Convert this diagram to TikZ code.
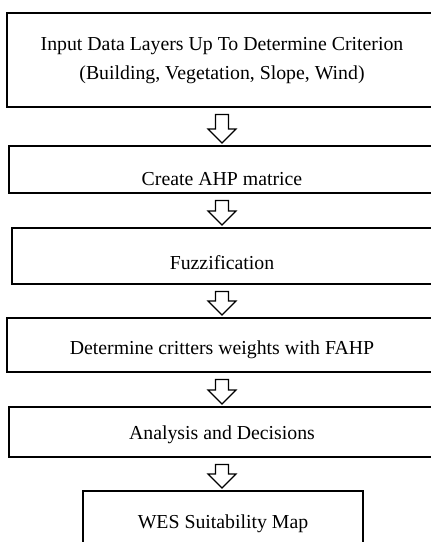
\documentclass[tikz,border=0pt]{standalone}
\usepackage{fontspec}
\setmainfont{Liberation Serif}
\usetikzlibrary{calc}

% hollow block arrow from the foot of one stage to the head of the next
\newcommand{\flowarrow}[2]{%
  \draw[hollow] let \p1=($(#1.south)+(0,6)$), \p2=($(#2.north)+(0,-2)$) in
    (\x1-6.5pt,\y1) -- (\x1+6.5pt,\y1) -- (\x1+6.5pt,\y2+14pt) -- (\x1+14pt,\y2+14pt)
    -- (\x1,\y2) -- (\x1-14pt,\y2+14pt) -- (\x1-6.5pt,\y2+14pt) -- cycle;}

\begin{document}
\begin{tikzpicture}[
    x=1pt, y=-1pt,
    stagebox/.style={rectangle, draw=black, line width=2.4pt, fill=white, inner sep=0pt, align=center, anchor=north, font=\fontsize{19.8}{29}\selectfont},
    hollow/.style={draw=black, line width=1.2pt, fill=white, line join=miter},
]
    \useasboundingbox (0,0) rectangle (431,542);
    \clip (0,0) rectangle (431,542);

    % ===== STAGES =====
    \node[stagebox, minimum width=430pt, minimum height=94pt] (input) at (222,12) {Input Data Layers Up To Determine Criterion\\(Building, Vegetation, Slope, Wind)};
    \node[stagebox, minimum width=426pt, text height=39pt, text depth=8pt] (ahp) at (222,145) {Create AHP matrice};
    \node[stagebox, minimum width=420pt, text height=41pt, text depth=15pt] (fuzzy) at (222,227) {Fuzzification};
    \node[stagebox, minimum width=430pt, text height=36pt, text depth=18pt] (fahp) at (222,317) {Determine critters weights with FAHP};
    \node[stagebox, minimum width=426pt, text height=32pt, text depth=18pt] (decide) at (222,406) {Analysis and Decisions};
    \node[stagebox, minimum width=280pt, text height=37pt, text depth=29pt] (map) at (223,490) {WES Suitability Map};

    % ===== ARROWS =====
    \flowarrow{input}{ahp}
    \flowarrow{ahp}{fuzzy}
    \flowarrow{fuzzy}{fahp}
    \flowarrow{fahp}{decide}
    \flowarrow{decide}{map}

\end{tikzpicture}
\end{document}
